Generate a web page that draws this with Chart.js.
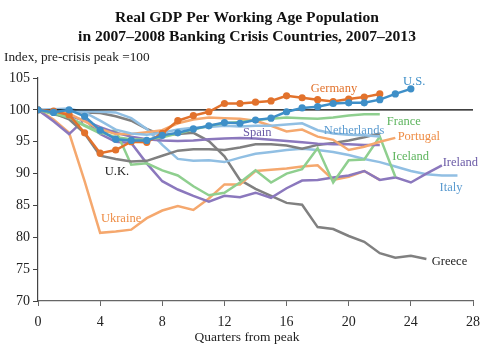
<!DOCTYPE html>
<html>
<head>
<meta charset="utf-8">
<script src="https://cdn.jsdelivr.net/npm/chart.js@4.4.0/dist/chart.umd.min.js"></script>
<style>
  html, body { margin: 0; padding: 0; background: #fff; }
</style>
</head>
<body>
<canvas id="gdp" width="494" height="349"></canvas>
<script>
// Real GDP per working-age person, index (pre-crisis peak = 100), by quarter from peak
const xTicks = [0, 4, 8, 12, 16, 20, 24, 28];
const yTicks = [70, 75, 80, 85, 90, 95, 100, 105];

const us = [100, 99.6, 100, 99, 96.8, 95.4, 95.2, 95.2, 96, 96.4, 97, 97.5, 98, 97.9, 98.4, 98.7,
  99.7, 100.3, 100.5, 101, 101.1, 101.1, 101.6, 102.5, 103.3];
const germany = [100, 99.8, 99.2, 96.4, 93.2, 93.7, 95, 94.9, 96.3, 98.3, 99.1, 99.7, 101, 101, 101.2, 101.4,
  102.2, 101.9, 101.6, 101.3, 101.7, 102, 102.5];
const france = [100, 99.5, 98.8, 97.6, 96.5, 95.7, 95.4, 95.3, 95.7, 96.3, 96.9, 97.5, 97.9, 98.1, 98.4, 98.6,
  98.8, 98.7, 98.6, 98.8, 99.1, 99.3, 99.3];
const netherlands = [100, 100.1, 100.2, 99.6, 98.3, 96.9, 96.3, 96.1, 96.4, 96.9, 97.2, 97.3, 97.5, 97.4, 97.5, 97.5,
  97.7, 97.9, 96.8, 96.3, 96.1, 96, 95.8];
const portugal = [100, 99.8, 99.4, 98.2, 97, 96.2, 96.2, 96.5, 96.8, 97.9, 98.5, 98.8, 98.7, 98.6, 98.3, 97.5,
  96.6, 96.9, 95.8, 95.3, 93.7, 94.2, 95, 95.6];
const spain = [100, 99.6, 99.1, 98.3, 97.3, 96.4, 95.8, 95.4, 95.2, 95.1, 95.2, 95.4, 95.5, 95.6, 95.5, 95.3,
  95.1, 94.9, 94.7, 94.6, 94.6, 94.5, 94.5];
const uk = [100, 99.5, 98.5, 96.3, 92.8, 92.3, 91.9, 92, 92.8, 93.6, 93.8, 93.8, 93.7, 94.1, 94.6, 94.6,
  94.4, 93.9, 94.5, 94.8, 95.2, 95.7, 96.3];
const iceland = [100, 99.3, 98.7, 97.5, 96.3, 96.8, 91.4, 91.6, 90.5, 89.7, 88, 86.6, 87, 88.6, 90.5, 88.6,
  90, 90.7, 94, 88.6, 92.1, 92.2, 95.8, 89.5];
const ireland = [100, 98.2, 96.2, 98.5, 96.2, 95, 94.8, 91.6, 88.8, 87.5, 86.5, 85.6, 86.5, 86.3, 87, 86.2,
  87.7, 88.9, 89, 89.4, 89.7, 90.4, 89, 89.4, 88.6, 90, 91.3];
const italy = [100, 99.9, 99.7, 99.8, 99.7, 99.6, 98.7, 97, 94.5, 92.3, 92, 92.1, 91.8, 92.5, 93.1, 93.4,
  93.7, 93.9, 93.7, 93.4, 92.9, 92.3, 91.8, 91.1, 90.4, 89.9, 89.7, 89.7];
const ukraine = [100, 98.5, 96.4, 88.8, 80.7, 80.9, 81.2, 83, 84.2, 84.9, 84.3, 86.1, 88.3, 88.3, 90.4, 90.6,
  90.8, 91.1, 91.3, 89, 89.5, 90.4, 89];
const greece = [100, 99.7, 99.8, 99.6, 99.5, 99, 98.3, 97, 96, 96.2, 96.4, 95.1, 92.7, 89, 87.6, 86.5,
  85.4, 85.1, 81.6, 81.3, 80.2, 79.3, 77.5, 76.8, 77.1, 76.6];

const titleLines = ['Real GDP Per Working Age Population', 'in 2007\u20132008 Banking Crisis Countries, 2007\u20132013'];
const unitNote = 'Index, pre-crisis peak =100';
const xCaption = 'Quarters from peak';

const SERIF = '"Liberation Serif", "Times New Roman", serif';
const C = {
  usBlue: '#3e8fc8', deOrange: '#e2722c', orange: '#f5a86e', blue: '#91bfe3',
  green: '#8fcf8f', purple: '#8b78bd', gray: '#808080'
};

// text tags placed next to the line ends, in axis units
const tags = [
  { text: 'Germany', q: 17.55, v: 103.3, color: '#e2722c' },
  { text: 'U.S.', q: 23.5, v: 104.35, color: '#3e8fc8' },
  { text: 'Spain', q: 13.2, v: 96.35, color: '#6a5aa6' },
  { text: 'Netherlands', q: 18.4, v: 96.65, color: '#5b9bd0' },
  { text: 'France', q: 22.45, v: 98.1, color: '#5db45d' },
  { text: 'Portugal', q: 23.15, v: 95.75, color: '#ee8c44' },
  { text: 'Iceland', q: 22.8, v: 92.6, color: '#5db45d' },
  { text: 'Ireland', q: 26.05, v: 91.65, color: '#6a5aa6' },
  { text: 'Italy', q: 25.85, v: 87.75, color: '#5b9bd0' },
  { text: 'U.K.', q: 4.3, v: 90.25, color: '#222' },
  { text: 'Ukraine', q: 4.05, v: 82.85, color: '#ee8c44' },
  { text: 'Greece', q: 25.35, v: 76.1, color: '#222' }
];

const toPoints = arr => arr.map((v, i) => ({ x: i, y: v }));

function line(label, values, color, order, markers) {
  return {
    label: label,
    data: toPoints(values),
    borderColor: color,
    backgroundColor: color,
    borderWidth: 2.5,
    pointRadius: markers ? 3.6 : 0,
    pointBorderWidth: 0,
    pointBackgroundColor: color,
    tension: 0,
    order: order
  };
}

// headline, unit note and x caption are centred on the canvas, not the plot
const textPlugin = {
  id: 'texts',
  afterDraw(chart) {
    const { ctx, width, height, scales: { x, y } } = chart;
    ctx.save();
    ctx.textBaseline = 'middle';

    ctx.fillStyle = '#111';
    ctx.textAlign = 'center';
    ctx.font = 'bold 15.6px ' + SERIF;
    titleLines.forEach((t, i) => ctx.fillText(t, width / 2, 18 + i * 19));

    ctx.fillStyle = '#222';
    ctx.textAlign = 'left';
    ctx.font = '13.3px ' + SERIF;
    ctx.fillText(unitNote, 4, 58);

    ctx.textAlign = 'center';
    ctx.font = '13.5px ' + SERIF;
    ctx.fillText(xCaption, width / 2, height - 12);

    ctx.textAlign = 'left';
    ctx.font = '12.5px ' + SERIF;
    tags.forEach(t => {
      ctx.fillStyle = t.color;
      ctx.fillText(t.text, x.getPixelForValue(t.q), y.getPixelForValue(t.v));
    });
    ctx.restore();
  }
};

new Chart(document.getElementById('gdp'), {
  type: 'line',
  data: {
    datasets: [
      line('U.S.', us, C.usBlue, 0, true),
      line('Germany', germany, C.deOrange, 1, true),
      {
        label: 'peak',
        data: [{ x: xTicks[0], y: 100 }, { x: xTicks[xTicks.length - 1], y: 100 }],
        borderColor: '#000', borderWidth: 1.3, pointRadius: 0, order: 2
      },
      line('France', france, C.green, 3),
      line('Netherlands', netherlands, C.blue, 4),
      line('Portugal', portugal, C.orange, 5),
      line('Spain', spain, C.purple, 6),
      line('U.K.', uk, C.gray, 7),
      line('Iceland', iceland, C.green, 8),
      line('Ireland', ireland, C.purple, 9),
      line('Italy', italy, C.blue, 10),
      line('Ukraine', ukraine, C.orange, 11),
      line('Greece', greece, C.gray, 12)
    ]
  },
  options: {
    responsive: false,
    animation: false,
    layout: { padding: { left: 4, right: 21, top: 78, bottom: 0 } },
    scales: {
      x: {
        type: 'linear',
        min: xTicks[0],
        max: xTicks[xTicks.length - 1],
        afterBuildTicks: s => { s.ticks = xTicks.map(v => ({ value: v })); },
        afterFit: s => { s.height = 48; },
        grid: { drawOnChartArea: false, drawTicks: true, tickLength: 5, color: '#666', lineWidth: 1 },
        border: { display: true, color: '#666', width: 1.2 },
        ticks: { color: '#222', padding: 8, font: { family: SERIF, size: 14 } }
      },
      y: {
        min: yTicks[0],
        max: yTicks[yTicks.length - 1],
        afterBuildTicks: s => { s.ticks = yTicks.map(v => ({ value: v })); },
        afterFit: s => { s.width = 34; },
        grid: { drawOnChartArea: false, drawTicks: true, tickLength: 5, color: '#444', lineWidth: 1 },
        border: { display: true, color: '#444', width: 1.2 },
        ticks: { color: '#222', padding: 3, font: { family: SERIF, size: 14 } }
      }
    },
    plugins: {
      legend: { display: false },
      tooltip: { enabled: false }
    }
  },
  plugins: [textPlugin]
});
</script>
</body>
</html>
